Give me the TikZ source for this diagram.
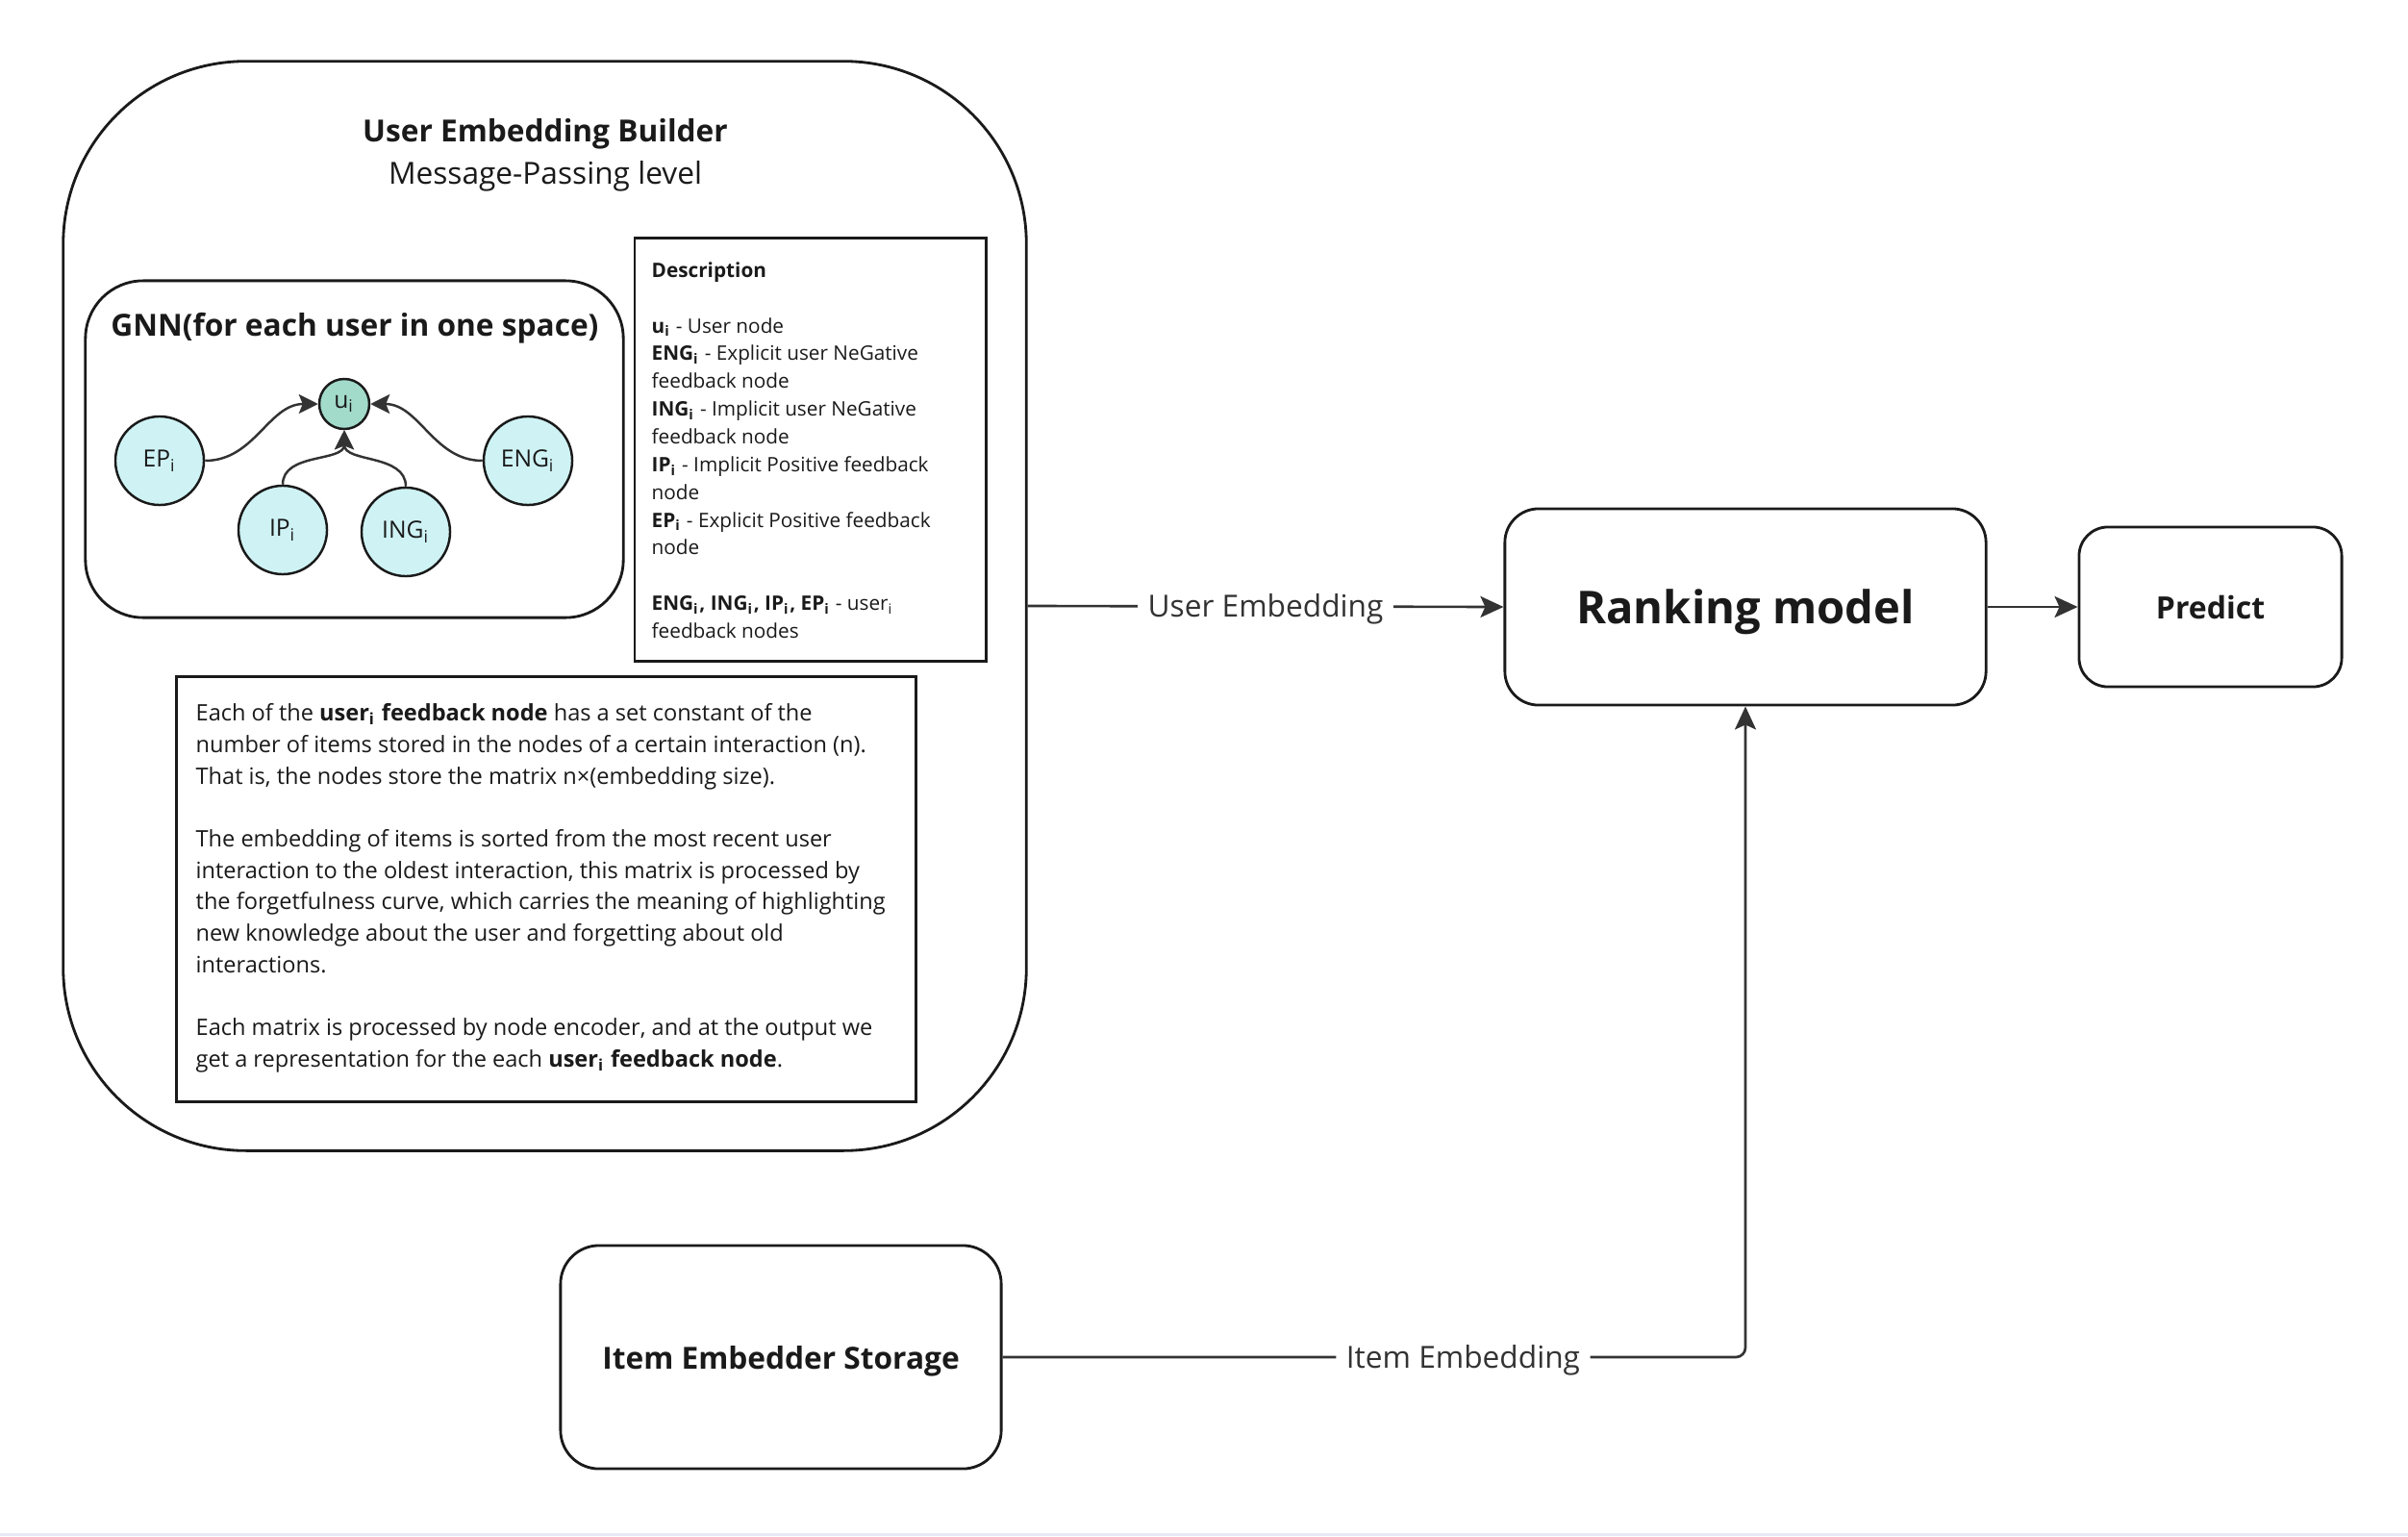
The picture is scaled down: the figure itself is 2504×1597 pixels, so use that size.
\documentclass[tikz,border=0pt]{standalone}
\usepackage{fontspec}
\setmainfont{Open Sans}
\usepackage{xcolor}
\usetikzlibrary{arrows.meta,positioning}

\definecolor{ink}{HTML}{1A1A1A}
\definecolor{wire}{HTML}{333333}
\definecolor{cyanfill}{HTML}{CFF3F5}
\definecolor{tealfill}{HTML}{A2DBCA}
\definecolor{edgeline}{HTML}{E6E8F5}

\newcommand{\subi}{\textsubscript{i}}
\newcommand{\fsz}[2]{\fontsize{#1}{#2}\selectfont}

\tikzset{
  box/.style={draw=ink, line width=0.8pt, rounded corners=#1, inner sep=0pt, text=ink, text depth=0pt},
  flat/.style={draw=ink, line width=0.8pt, inner sep=0pt},
  fnode/.style={circle, draw=ink, line width=0.7pt, fill=cyanfill, minimum size=0.92cm, inner sep=0pt, text=ink, font=\fsz{7}{8}},
  unode/.style={fnode, fill=tealfill, minimum size=0.52cm},
  arr/.style={draw=wire, line width=0.75pt, -{Stealth[length=2.4mm, width=2.2mm, inset=0.5mm]}},
  gnnarr/.style={draw=wire, line width=0.7pt, -{Stealth[length=2mm, width=2mm, inset=0.4mm]}},
  lbl/.style={fill=white, text=wire, inner xsep=3pt, inner ysep=1pt, text depth=0.5pt, font=\fsz{9}{10}},
}

\begin{document}
\begin{tikzpicture}[x=0.01cm, y=-0.01cm]
  \useasboundingbox (0,0) rectangle (2504,1597);
  \fill[edgeline] (0,1594) rectangle (2504,1597);

  %User embedding builder
  \node[box=1.9cm, minimum width=10.01cm, minimum height=11.32cm] (builder) at (566.5,630) {};
  \node[text=ink, font=\fsz{9}{10}\bfseries] (bTitle) at (567,139) {User Embedding Builder};
  \node[text=ink, font=\fsz{9}{10}] (bSub) at (567,183) {Message-Passing level};

  %GNN
  \node[box=0.6cm, minimum width=5.59cm, minimum height=3.5cm] (gnn) at (368.5,467) {};
  \node[text=ink, font=\fsz{9}{10}\bfseries] (gTitle) at (369,341) {GNN(for each user in one space)};
  \node[unode] (u) at (358,420) {u\subi};
  \node[fnode] (ep) at (166,479) {EP\subi};
  \node[fnode] (ip) at (294,551) {IP\subi};
  \node[fnode] (ing) at (422,553) {ING\subi};
  \node[fnode] (eng) at (549,479) {ENG\subi};
  \draw[gnnarr] (ep.east) to[out=0, in=180] (u.west);
  \draw[gnnarr] (eng.west) to[out=180, in=0] (u.east);
  \draw[gnnarr] (ip.north) to[out=90, in=270] (u.south);
  \draw[gnnarr] (ing.north) to[out=90, in=270] (u.south);

  %Description
  \node[flat, minimum width=3.65cm, minimum height=4.39cm] (desc) at (842.5,467.5) {};
  \node[anchor=north west, inner sep=0pt, align=left, text=ink, font=\fsz{5.9}{8.2}] (descText) at (677,272) {%
    \textbf{Description}\\[8.2pt]
    \textbf{u\subi} - User node\\
    \textbf{ENG\subi} - Explicit user NeGative\\
    feedback node\\
    \textbf{ING\subi} - Implicit user NeGative\\
    feedback node\\
    \textbf{IP\subi} - Implicit Positive feedback\\
    node\\
    \textbf{EP\subi} - Explicit Positive feedback\\
    node\\[8.2pt]
    \textbf{ENG\subi, ING\subi, IP\subi, EP\subi} - user\subi\\
    feedback nodes};

  %Notes
  \node[flat, minimum width=7.68cm, minimum height=4.41cm] (notes) at (568,924.5) {};
  \node[anchor=north west, inner sep=0pt, align=left, text=ink, font=\fsz{6.7}{9.3}] (notesText) at (203,731) {%
    Each of the \textbf{user\subi\ feedback node} has a set constant of the\\
    number of items stored in the nodes of a certain interaction (n).\\
    That is, the nodes store the matrix n×(embedding size).\\[9.3pt]
    The embedding of items is sorted from the most recent user\\
    interaction to the oldest interaction, this matrix is processed by\\
    the forgetfulness curve, which carries the meaning of highlighting\\
    new knowledge about the user and forgetting about old\\
    interactions.\\[9.3pt]
    Each matrix is processed by node encoder, and at the output we\\
    get a representation for the each \textbf{user\subi\ feedback node}.};

  %Right side
  \node[box=0.35cm, minimum width=5.0cm, minimum height=2.04cm, font=\fsz{13.4}{15}\bfseries] (rank) at (1815,631) {Ranking model};
  \node[box=0.3cm, minimum width=2.73cm, minimum height=1.66cm, font=\fsz{9.1}{10}\bfseries] (predict) at (2298.5,631) {Predict};
  \node[box=0.4cm, minimum width=4.58cm, minimum height=2.32cm, font=\fsz{9}{10}\bfseries] (storage) at (812,1411) {Item Embedder Storage};

  %Connectors
  \draw[arr] (builder.east) -- node[lbl] {User Embedding} (rank.west);
  \draw[arr] (rank.east) -- (predict.west);
  \draw[arr, rounded corners=0.1cm] (storage.east) -- node[lbl, pos=0.62] {Item Embedding} (storage.east -| rank.south) -- (rank.south);
\end{tikzpicture}
\end{document}
